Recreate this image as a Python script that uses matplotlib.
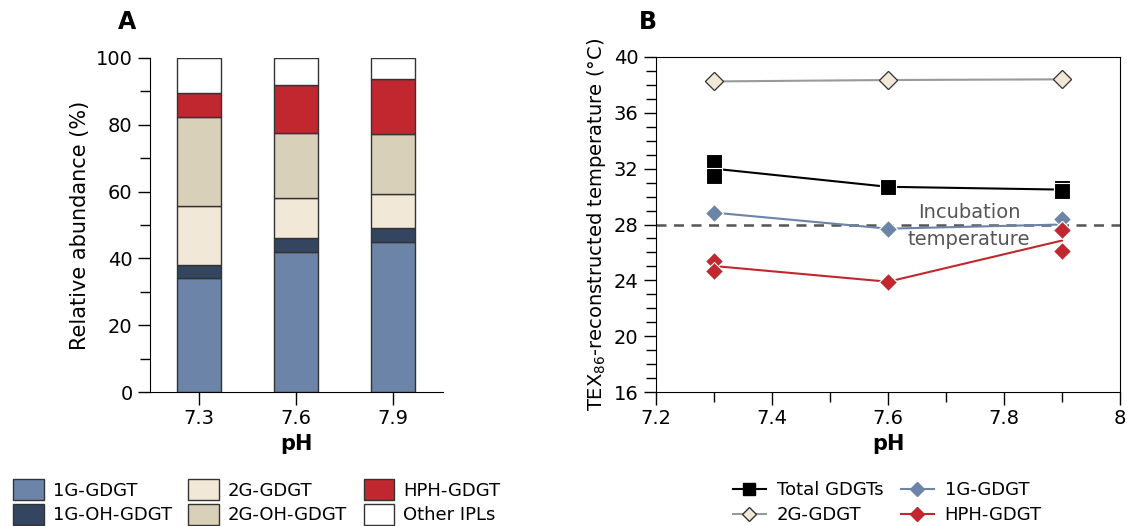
import matplotlib
matplotlib.use('Agg')
import matplotlib.pyplot as plt
from matplotlib.ticker import MultipleLocator
import numpy as np

plt.rcParams['font.family'] = ['DejaVu Sans']
plt.rcParams['font.size'] = 13

# --- panel A data (relative abundance, %) ---
ph_labels = ['7.3', '7.6', '7.9']
g1 = [34.1, 41.9, 44.8]
g1_oh = [3.9, 4.1, 4.2]
g2 = [17.7, 12.2, 10.2]
g2_oh = [26.5, 19.4, 17.9]
hph = [7.2, 14.3, 16.7]
other = [10.6, 8.1, 6.2]

bar_names = ['1G-GDGT', '1G-OH-GDGT', '2G-GDGT', '2G-OH-GDGT', 'HPH-GDGT', 'Other IPLs']
bar_colors = ['#6b84a8', '#34465f', '#f1e8d8', '#d8d0b8', '#c1272f', '#ffffff']

# --- panel B data (TEX86 temperature, replicates) ---
ph = [7.3, 7.6, 7.9]
total_rep = [[32.5, 31.5], [30.7, 30.7], [30.6, 30.4]]
g1_rep = [[28.85, 28.85], [27.7, 27.7], [28.4, 27.6]]
g2_rep = [[38.25, 38.25], [38.35, 38.35], [38.4, 38.4]]
hph_rep = [[25.35, 24.7], [23.9, 23.9], [27.6, 26.1]]
incubation_temp = 28

fig = plt.figure(figsize=(11.27, 5.26), dpi=100)

# ---------- A ----------
axA = fig.add_axes([150/1127, 134/526, 293/1127, 334/526])
x = np.arange(len(ph_labels))
bottom = np.zeros(len(ph_labels))
handles = []
for vals, name, col in zip([g1, g1_oh, g2, g2_oh, hph, other], bar_names, bar_colors):
    b = axA.bar(x, vals, width=0.45, bottom=bottom, color=col, edgecolor='#333333',
                linewidth=1, label=name)
    handles.append(b)
    bottom += np.array(vals)
axA.set_xlim(-0.505, 2.515)
axA.set_ylim(0, 100)
axA.set_xticks(x)
axA.set_xticklabels(ph_labels)
axA.yaxis.set_major_locator(MultipleLocator(20))
axA.yaxis.set_minor_locator(MultipleLocator(10))
axA.tick_params(axis='both', which='major', direction='out', length=9, width=1, labelsize=14)
axA.tick_params(axis='y', which='minor', direction='out', length=7, width=1)
axA.spines['top'].set_visible(False)
axA.spines['right'].set_visible(False)
axA.set_ylabel('Relative abundance (%)', fontsize=15)
axA.set_xlabel('pH', fontsize=15, fontweight='bold', labelpad=4)
fig.text(127/1127, 1 - 22/526, 'A', fontsize=17, fontweight='bold', ha='center', va='center')
fig.legend(handles=handles, labels=bar_names, ncol=3, loc='upper left',
           bbox_to_anchor=(6/1127, 1 - 472/526), frameon=False, fontsize=13,
           handlelength=1.7, handleheight=1.4, handletextpad=0.5, columnspacing=0.9,
           labelspacing=0.2, borderaxespad=0)

# ---------- B ----------
axB = fig.add_axes([656/1127, 134/526, 464/1127, 335/526])
axB.axhline(incubation_temp, color='#555555', linestyle=(0, (4, 3)), linewidth=1.8, zorder=1)

series = [
    ('Total GDGTs', total_rep, 's', '#000000', '#000000', 'white', 11),
    ('1G-GDGT', g1_rep, 'D', '#6b84a8', '#6b84a8', 'white', 9),
    ('2G-GDGT', g2_rep, 'D', '#999999', '#f1e8d8', '#333333', 9),
    ('HPH-GDGT', hph_rep, 'D', '#c1272f', '#c1272f', 'white', 9),
]
leg_handles = {}
for name, reps, mk, lc, fc, ec, ms in series:
    means = [np.mean(r) for r in reps]
    axB.plot(ph, means, color=lc, linewidth=1.5, zorder=2)
    for px, r in zip(ph, reps):
        axB.plot([px] * len(r), r, linestyle='none', marker=mk, markersize=ms,
                 markerfacecolor=fc, markeredgecolor=ec, markeredgewidth=0.8, zorder=3)
    h, = axB.plot([], [], color=lc, linewidth=1.5, marker=mk, markersize=ms - 2,
                  markerfacecolor=fc, markeredgecolor=ec if ec != 'white' else fc)
    leg_handles[name] = h

axB.text(7.74, 28.85, 'Incubation', ha='center', va='center', fontsize=14, color='#555555')
axB.text(7.74, 26.9, 'temperature', ha='center', va='center', fontsize=14, color='#555555')

axB.set_xlim(7.2, 8)
axB.set_ylim(16, 40)
axB.xaxis.set_major_locator(MultipleLocator(0.2))
axB.xaxis.set_minor_locator(MultipleLocator(0.1))
axB.yaxis.set_major_locator(MultipleLocator(4))
axB.yaxis.set_minor_locator(MultipleLocator(1))
axB.set_xticks([7.2, 7.4, 7.6, 7.8, 8.0])
axB.set_xticklabels(['7.2', '7.4', '7.6', '7.8', '8'])
axB.tick_params(axis='both', which='major', direction='out', length=9, width=1, labelsize=14)
axB.tick_params(axis='both', which='minor', direction='out', length=7, width=1)
axB.set_ylabel(r'TEX$_{86}$-reconstructed temperature (°C)', fontsize=14)
axB.set_xlabel('pH', fontsize=15, fontweight='bold', labelpad=4)
fig.text(648/1127, 1 - 22/526, 'B', fontsize=17, fontweight='bold', ha='center', va='center')

order = ['Total GDGTs', '2G-GDGT', '1G-GDGT', 'HPH-GDGT']
fig.legend(handles=[leg_handles[k] for k in order], labels=order, ncol=2, loc='upper left',
           bbox_to_anchor=(726/1127, 1 - 474/526), frameon=False, fontsize=13,
           handlelength=1.8, handletextpad=0.6, columnspacing=1.0,
           labelspacing=0.4, borderaxespad=0)

fig.savefig('out.png', dpi=100)
